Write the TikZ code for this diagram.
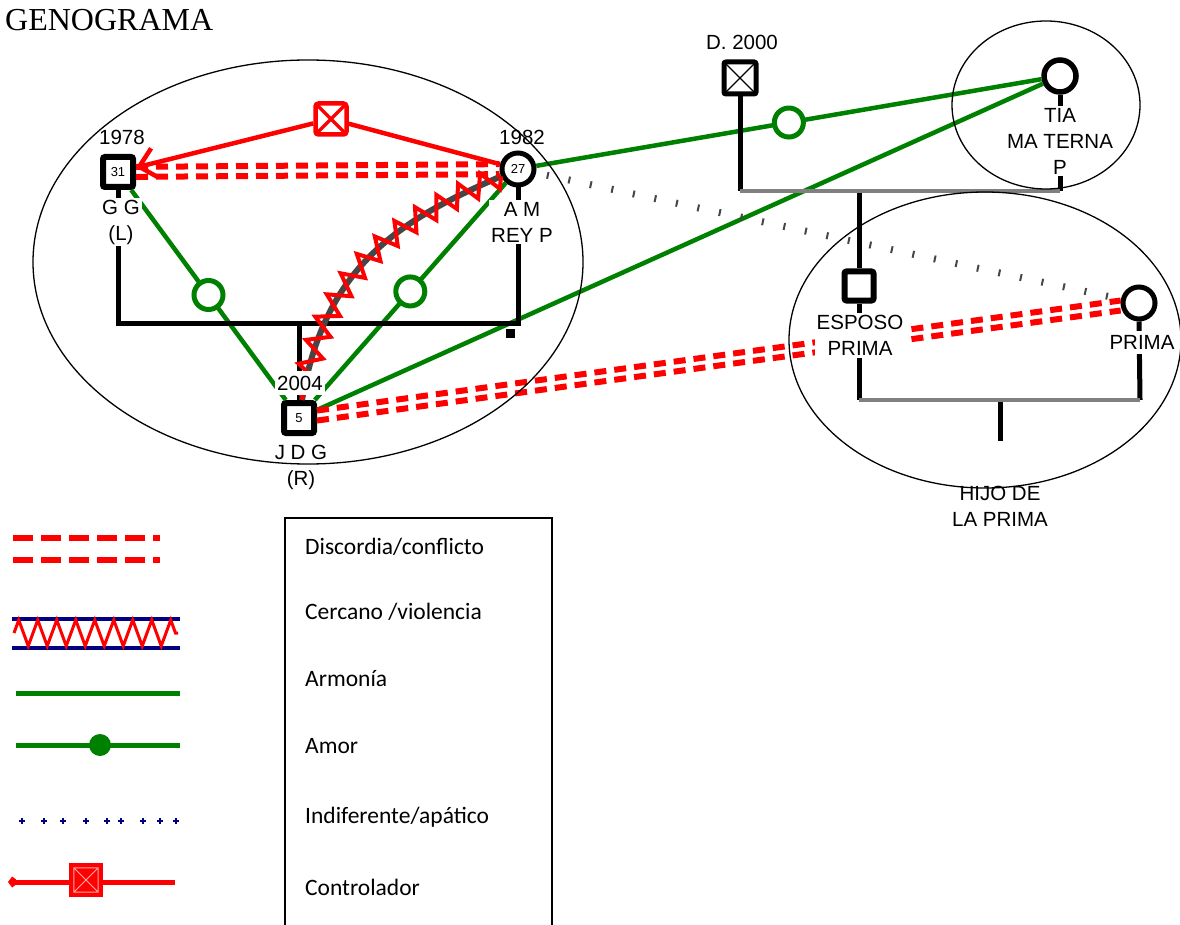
\documentclass[tikz,border=0pt]{standalone}
\usepackage{fontspec}
\setmainfont{Liberation Sans}
\newfontfamily\legfont{Carlito}
\newfontfamily\titfont{Liberation Serif}
\usetikzlibrary{arrows.meta,decorations.pathmorphing,decorations.markings}
\definecolor{armgreen}{RGB}{0,128,0}
\definecolor{navyblue}{RGB}{0,0,128}
\definecolor{famgray}{RGB}{128,128,128}
\definecolor{violgray}{RGB}{70,70,70}
\begin{document}
\begin{tikzpicture}[x=1pt, y=-1pt,
	male/.style = {draw, line width=6pt, rounded corners=2pt, minimum size=30pt, inner sep=0pt, fill=white, font=\fontsize{13}{13}\selectfont},
	female/.style = {draw, circle, line width=5pt, minimum size=32pt, inner sep=0pt, fill=white, font=\fontsize{13}{13}\selectfont},
	lbl/.style = {fill=white, align=center, inner sep=2pt, font=\fontsize{20.5}{26}\selectfont},
	fam/.style = {line width=5pt},
	famg/.style = {line width=4.5pt, famgray},
	armonia/.style = {armgreen, line width=4.5pt},
	love/.style = {draw=armgreen, circle, line width=5pt, minimum size=29pt, inner sep=0pt, fill=white},
	conflict/.style = {red, line width=6pt, dash pattern=on 12pt off 8pt},
	ctrl/.style = {red, line width=4.5pt},
	viol/.style = {violgray, line width=6pt, postaction={decorate, draw=red, line width=4pt, decoration={zigzag, amplitude=11pt, segment length=24pt}}},
	indif/.style = {postaction={decorate}, decoration={markings, mark=between positions 0.02 and 1 step 22pt with {\draw[violgray, line width=2pt] (0,-3.5pt) -- (0,3.5pt);}}},
	legtxt/.style = {anchor=west, inner sep=0pt, font=\legfont\fontsize{23.5}{28}\selectfont}
	]
	\useasboundingbox (0,0) rectangle (1180,925);
	\node[anchor=base west, inner sep=0pt, font=\titfont\fontsize{32}{32}\selectfont] (title) at (5,31) {GENOGRAMA};

	\node[male] (gg) at (118,172) {31};
	\node[female] (am) at (518,169) {27};
	\node[male] (jdg) at (299,418) {5};
	\node[male, line width=5pt, minimum size=32pt] (d2000) at (740,78) {};
	\node[female, line width=5.5pt] (tia) at (1060,76) {};
	\node[male, minimum size=29pt] (esposo) at (859,286) {};
	\node[female] (prima) at (1139,303) {};
	\node[draw=red, line width=4.5pt, rounded corners=3pt, minimum size=31pt, inner sep=0pt, fill=white] (ctl) at (331,119) {};
	\draw[line width=1.2pt] ([shift={(2.5pt,-2.5pt)}]d2000.north west) -- ([shift={(-2.5pt,2.5pt)}]d2000.south east)
		([shift={(-2.5pt,-2.5pt)}]d2000.north east) -- ([shift={(2.5pt,2.5pt)}]d2000.south west);
	\draw[red, line width=3.5pt] ([shift={(2.5pt,-2.5pt)}]ctl.north west) -- ([shift={(-2.5pt,2.5pt)}]ctl.south east)
		([shift={(-2.5pt,-2.5pt)}]ctl.north east) -- ([shift={(2.5pt,2.5pt)}]ctl.south west);

	\draw[armonia] (gg) -- node[love] {} (jdg);
	\draw[armonia] (am) -- node[love] {} (jdg);
	\draw[armonia] (am) -- node[love] {} (tia);
	\draw[armonia] (jdg) -- (tia);

	\coordinate (kid) at (299,323);
	\draw[fam] (gg.south) |- (kid) -| (am.south);
	\draw[fam] (kid) -- (jdg.north);
	\fill (506,329) rectangle (515,338);
	\coordinate (dl) at (740,191);
	\coordinate (tl) at (1060,191);
	\coordinate (ch) at (859,191);
	\draw[fam] (d2000.south) -- (dl);
	\draw[fam] (tia.south) -- (tl);
	\draw[fam] (ch) -- (esposo.north);
	\draw[famg] (dl) -- (tl);
	\coordinate (el) at (859,400);
	\coordinate (pl) at (1140,400);
	\coordinate (hl) at (1000,400);
	\coordinate (hk) at (1000,441);
	\draw[fam] (esposo.south) -- (el);
	\draw[fam] (prima.south) -- (pl);
	\draw[fam] (hl) -- (hk);
	\draw[famg] (el) -- (pl);

	\draw[viol] (am) .. controls (400,220) and (325,265) .. (jdg);
	\draw[ctrl] (am) -- (ctl);
	\draw[ctrl, -{Straight Barb[length=16pt, width=30pt]}] (ctl) -- (gg);
	\draw[conflict, transform canvas={yshift=5pt}] (gg) -- (am);
	\draw[conflict, transform canvas={yshift=-5pt}] (gg) -- (am);
	\draw[conflict, transform canvas={yshift=5pt}] (jdg) -- (prima);
	\draw[conflict, transform canvas={yshift=-5pt}] (jdg) -- (prima);
	\path[indif] (am) -- (prima);

	\node[lbl] (l1978) at (122,137.5) {1978};
	\node[lbl, fill=none] (l1982) at (522,137.5) {1982};
	\node[lbl] (lgg) at (121,222) {G G\\(L)};
	\node[lbl] (lam) at (522,222) {A M\\REY P};
	\node[lbl, inner ysep=5pt] (l2004) at (300,383) {2004};
	\node[lbl, fill=none] (ljdg) at (301,467) {J D G\\(R)};
	\node[lbl] (ld2000) at (742,42.5) {D. 2000};
	\node[lbl] (ltia) at (1060,141) {TIA\\MA TERNA\\P};
	\node[lbl] (lesposo) at (860,335.5) {ESPOSO\\PRIMA};
	\node[lbl, inner ysep=4pt] (lprima) at (1142,342.5) {PRIMA};
	\node[lbl, fill=none] (lhijo) at (1000,506) {HIJO DE\\LA PRIMA};

	\draw[line width=1.3pt] (308,262) ellipse [x radius=275pt, y radius=202pt];
	\draw[line width=1.3pt] (1046,105) ellipse [x radius=94pt, y radius=84pt];
	\draw[line width=1.3pt] (985,340) ellipse [x radius=196pt, y radius=148pt];

	\draw[line width=1.5pt] (285,518) rectangle (552,935);
	\node[legtxt] (t1) at (305,547) {Discordia/conflicto};
	\node[legtxt] (t2) at (305,612) {Cercano /violencia};
	\node[legtxt] (t3) at (305,679) {Armonía};
	\node[legtxt] (t4) at (305,746) {Amor};
	\node[legtxt] (t5) at (305,817) {Indiferente/apático};
	\node[legtxt] (t6) at (305,887) {Controlador};

	\draw[conflict, dash pattern=on 20pt off 8pt] (13,538) -- (160,538);
	\draw[conflict, dash pattern=on 20pt off 8pt] (13,560) -- (160,560);
	\draw[navyblue, line width=4pt] (12,619) -- (180,619) (12,648) -- (180,648);
	\draw[red, line width=3pt, decorate, decoration={zigzag, amplitude=13pt, segment length=19pt}] (14,633) -- (178,633);
	\draw[armonia, line width=5pt] (16,693) -- (180,693);
	\draw[armonia, line width=5pt] (16,745) -- (180,745);
	\fill[armgreen] (100,745) circle (11pt);
	\foreach \x in {22,44,63,86,107,121,143,160,176}
		\draw[navyblue, line width=1.5pt] (\x-3,821) -- (\x+3,821) (\x,818) -- (\x,824);
	\draw[red, line width=5pt, {Straight Barb[length=3pt, width=8pt]}-] (8,882) -- (175,882);
	\node[fill=red, minimum size=34pt, inner sep=0pt] (lctl) at (86,880) {};
	\draw[red!35, line width=1pt] ([shift={(5pt,-5pt)}]lctl.north west) rectangle ([shift={(-5pt,5pt)}]lctl.south east)
		([shift={(5pt,-5pt)}]lctl.north west) -- ([shift={(-5pt,5pt)}]lctl.south east)
		([shift={(-5pt,-5pt)}]lctl.north east) -- ([shift={(5pt,5pt)}]lctl.south west);
\end{tikzpicture}
\end{document}
